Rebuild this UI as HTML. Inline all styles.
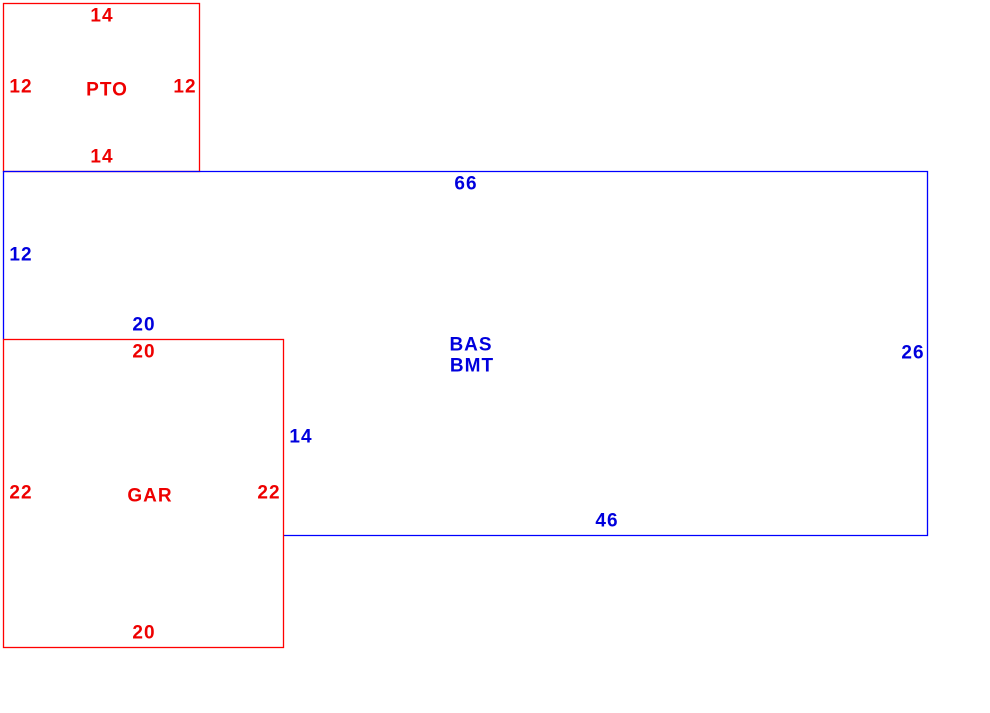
<!DOCTYPE html>
<html><head><style>html,body{margin:0;padding:0;background:#fff}</style></head><body>
<svg width="990" height="713" xmlns="http://www.w3.org/2000/svg" style="display:block">
<g fill="none" stroke-width="1.3">
<rect x="3.5" y="3.5" width="196" height="168" stroke="#ff0000"/>
<polyline points="3.5,339.5 3.5,171.5 927.5,171.5 927.5,535.5 283.5,535.5" stroke="#0000ff"/>
<rect x="3.5" y="339.5" width="280" height="308" stroke="#ff0000"/>
</g>
<g font-family="Liberation Sans, Arial, sans-serif" font-weight="bold" font-size="19" letter-spacing="1" text-anchor="middle" dominant-baseline="central">
<g fill="#ee0000">
<text x="102" y="16">14</text>
<text x="21" y="87">12</text>
<text x="107" y="90">PTO</text>
<text x="185" y="87">12</text>
<text x="102" y="157">14</text>
<text x="144" y="352">20</text>
<text x="21" y="493">22</text>
<text x="150" y="496">GAR</text>
<text x="269" y="493">22</text>
<text x="144" y="633">20</text>
</g>
<g fill="#0000dd">
<text x="466" y="184">66</text>
<text x="21" y="255">12</text>
<text x="144" y="325">20</text>
<text x="471" y="345">BAS</text>
<text x="472" y="366">BMT</text>
<text x="913" y="353">26</text>
<text x="301" y="437">14</text>
<text x="607" y="521">46</text>
</g>
</g>
</svg>
</body></html>
